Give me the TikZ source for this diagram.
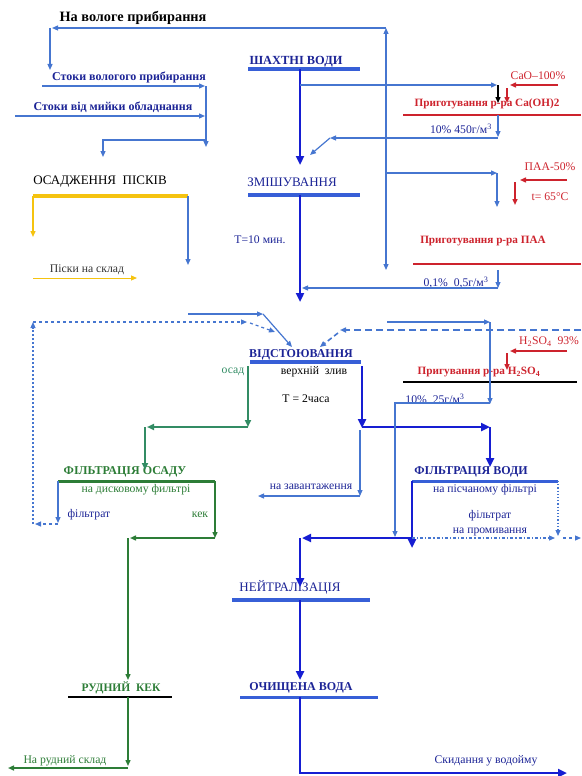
\documentclass[tikz,border=0pt]{standalone}
\usepackage{fontspec}
\setmainfont{Liberation Serif}
\usetikzlibrary{arrows.meta}

\definecolor{flowblue}{RGB}{70,118,208}
\definecolor{mainblue}{RGB}{22,30,210}
\definecolor{barblue}{RGB}{55,95,215}
\definecolor{txtblue}{RGB}{28,36,150}
\definecolor{procred}{RGB}{205,35,45}
\definecolor{sludgegreen}{RGB}{50,140,100}
\definecolor{cakegreen}{RGB}{45,125,55}
\definecolor{sandyellow}{RGB}{245,195,15}

\tikzset{
  >={Triangle[length=6pt,width=5pt]},
  flow/.style={flowblue, line width=1.2pt, ->},
  mainflow/.style={mainblue, line width=2.8pt, -{Triangle[length=9pt,width=8pt]}},
  redflow/.style={procred, line width=1.4pt, ->},
  blackflow/.style={black, line width=1.3pt, ->},
  sandflow/.style={sandyellow, line width=1.4pt, ->},
  sludgeflow/.style={sludgegreen, line width=2pt, -{Triangle[length=7pt,width=6pt]}},
  cakeflow/.style={cakegreen, line width=1.4pt, ->},
  barline/.style={line width=3.5pt},
  lbl/.style={inner sep=0pt, font=\fontsize{11.7}{13.5}\selectfont, text=txtblue},
  hd/.style={inner sep=0pt, font=\bfseries\fontsize{12}{14}\selectfont, text=txtblue},
  capt/.style={inner sep=0pt, font=\fontsize{13}{15}\selectfont, text=txtblue},
  redlbl/.style={lbl, text=procred},
  redhd/.style={inner sep=0pt, font=\bfseries\fontsize{11.2}{13}\selectfont, text=procred}
}

\begin{document}
\begin{tikzpicture}[x=1pt,y=-1pt]
\useasboundingbox (0,0) rectangle (581,776);

% texts
\node[hd, text=black, font=\bfseries\fontsize{14.3}{16}\selectfont] (wetclean) at (133,18) {На вологе прибирання};
\node[hd, font=\bfseries\fontsize{12.4}{14}\selectfont] (shakhtni) at (296,62) {ШАХТНІ ВОДИ};
\node[hd] (stokwet) at (129,77) {Стоки вологого прибирання};
\node[hd] (stokwash) at (113,107) {Стоки від мийки обладнання};
\node[redlbl] (caoin) at (538,76) {CaO–100\%};
\node[redhd] (caoprep) at (487,104) {Приготування р-ра Ca(OH)2};
\node[lbl] (limedose) at (461,129) {10\% 450г/м\textsuperscript{3}};
\node[capt] (mixing) at (292,182) {ЗМІШУВАННЯ};
\node[capt, text=black] (sandsettle) at (100,182) {ОСАДЖЕННЯ\ \ ПІСКІВ};
\node[lbl, text=black!80] (sandout) at (87,270) {Піски на склад};
\node[lbl] (mixtime) at (260,240) {Т=10 мин.};
\node[redlbl] (paain) at (550,167) {ПАА-50\%};
\node[redlbl] (paatemp) at (550,197) {t= 65°C};
\node[redhd] (paaprep) at (483,241) {Приготування р-ра ПАА};
\node[lbl] (paadose) at (456,283) {0,1\%\ \ 0,5г/м\textsuperscript{3}};
\node[hd] (settling) at (301,355) {ВІДСТОЮВАННЯ};
\node[lbl, text=sludgegreen] (sludge) at (233,372) {осад};
\node[lbl, text=black] (overflow) at (314,372) {верхній\ \ злив};
\node[lbl, text=black] (settletime) at (306,399) {Т = 2часа};
\node[redlbl] (acidin) at (549,342) {H\textsubscript{2}SO\textsubscript{4}\ \ 93\%};
\node[redhd] (acidprep) at (479,372) {Пригування р-ра H\textsubscript{2}SO\textsubscript{4}};
\node[lbl] (aciddose) at (435,399) {10\%\ \ 25г/м\textsuperscript{3}};
\node[hd, text=cakegreen] (sludgefilt) at (125,472) {ФІЛЬТРАЦІЯ ОСАДУ};
\node[lbl, text=cakegreen] (discfilt) at (136,490) {на дисковому фильтрі};
\node[lbl] (filtrate) at (89,515) {фільтрат};
\node[lbl, text=cakegreen] (cake) at (200,515) {кек};
\node[lbl] (toload) at (311,487) {на завантаження};
\node[hd] (waterfilt) at (471,472) {ФІЛЬТРАЦІЯ ВОДИ};
\node[lbl] (sandfilt) at (485,490) {на пісчаному фільтрі};
\node[lbl, align=center, font=\fontsize{11.7}{15.5}\selectfont] (backwash) at (490,523) {фільтрат\\на промивання};
\node[capt] (neutral) at (290,587) {НЕЙТРАЛІЗАЦІЯ};
\node[hd, text=cakegreen, font=\bfseries\fontsize{11.5}{13}\selectfont] (orecake) at (121,688) {РУДНИЙ\ \ КЕК};
\node[hd] (purified) at (301,688) {ОЧИЩЕНА ВОДА};
\node[lbl, text=cakegreen] (oreyard) at (65,761) {На рудний склад};
\node[lbl] (discharge) at (486,761) {Скидання у водойму};

% points
\coordinate (retT) at (386,28);  \coordinate (retB) at (386,270);
\coordinate (wetL) at (52,28);   \coordinate (wetC) at (50,28);  \coordinate (wetD) at (50,70);
\coordinate (shL) at (248,69);   \coordinate (shR) at (360,69);  \coordinate (shS) at (300,69);
\coordinate (mixIn) at (300,165);
\coordinate (limeJ) at (300,85); \coordinate (limeE) at (497,85);
\coordinate (blkT) at (498,85);  \coordinate (blkB) at (498,103);
\coordinate (caoR) at (558,85);  \coordinate (caoL) at (510,85);
\coordinate (caoT) at (507,88);  \coordinate (caoB) at (507,103);
\coordinate (caL) at (403,115);  \coordinate (caR) at (581,115);
\coordinate (limeS) at (498,115); \coordinate (limeD) at (498,137);
\coordinate (limeC) at (498,138); \coordinate (limeW) at (330,138); \coordinate (limeZ) at (310,155);
\coordinate (stokA) at (42,86);  \coordinate (stokAE) at (205,86);
\coordinate (stokB) at (15,116); \coordinate (stokBE) at (205,116);
\coordinate (colT) at (206,86);  \coordinate (colB) at (206,147);
\coordinate (colJ) at (206,140); \coordinate (colW) at (103,140); \coordinate (colD) at (103,157);
\coordinate (sandL) at (33,196); \coordinate (sandR) at (188,196);
\coordinate (sandD) at (33,237); \coordinate (sandBD) at (188,265);
\coordinate (sandOutL) at (33,278); \coordinate (sandOutR) at (137,278);
\coordinate (mixL) at (248,195); \coordinate (mixR) at (360,195);
\coordinate (mixS) at (300,195); \coordinate (mixOut) at (300,302);
\coordinate (paaJ) at (386,173); \coordinate (paaE) at (497,173); \coordinate (paaD) at (497,207);
\coordinate (paaR) at (567,180); \coordinate (paaL) at (520,180);
\coordinate (paaT) at (515,182); \coordinate (paaB) at (515,205);
\coordinate (ppL) at (413,264);  \coordinate (ppR) at (581,264);
\coordinate (pdT) at (498,270);  \coordinate (pdB) at (498,288); \coordinate (pdE) at (302,288);
\coordinate (inA) at (188,314);  \coordinate (inB) at (263,314); \coordinate (inC) at (292,347);
\coordinate (dsA) at (33,322);   \coordinate (dsB) at (247,322);
\coordinate (dsC) at (250,323);  \coordinate (dsD) at (275,332);
\coordinate (drA) at (581,330);  \coordinate (drB) at (340,330);
\coordinate (drC) at (338,333);  \coordinate (drD) at (320,347);
\coordinate (stL) at (250,362);  \coordinate (stR) at (361,362);
\coordinate (acJ) at (387,322);  \coordinate (acE) at (490,322); \coordinate (acD) at (490,404);
\coordinate (acR) at (567,351);  \coordinate (acL) at (510,351);
\coordinate (acT) at (507,353);  \coordinate (acB) at (507,370);
\coordinate (apL) at (403,382);  \coordinate (apR) at (577,382);
\coordinate (adC) at (490,403);  \coordinate (adW) at (395,403); \coordinate (adB) at (395,537);
\coordinate (osT) at (248,366);  \coordinate (osB) at (248,427); \coordinate (osW) at (147,427);
\coordinate (osC) at (145,427);  \coordinate (osD) at (145,470);
\coordinate (ofT) at (362,366);  \coordinate (ofB) at (362,428);
\coordinate (ofC) at (362,427);  \coordinate (ofE) at (490,427); \coordinate (ofD) at (490,467);
\coordinate (ldT) at (360,430);  \coordinate (ldC) at (360,496); \coordinate (ldW) at (258,496);
\coordinate (sfL) at (58,481);   \coordinate (sfR) at (215,481); \coordinate (sfD) at (58,523);
\coordinate (fdA) at (58,524);   \coordinate (fdB) at (35,524);  \coordinate (dsBot) at (33,524);
\coordinate (ckB) at (215,538);  \coordinate (ckW) at (130,538);
\coordinate (ckC) at (128,538);  \coordinate (ckD) at (128,680);
\coordinate (wfL) at (412,481);  \coordinate (wfR) at (558,481); \coordinate (wfD) at (412,548);
\coordinate (wfDot) at (558,536);
\coordinate (nJ) at (412,538);   \coordinate (nW) at (302,538);
\coordinate (nC) at (300,538);   \coordinate (nD) at (300,587);
\coordinate (bwB) at (555,538);  \coordinate (bwC) at (563,538); \coordinate (bwD) at (581,538);
\coordinate (ntL) at (232,600);  \coordinate (ntR) at (370,600);
\coordinate (ntS) at (300,600);  \coordinate (ntD) at (300,680);
\coordinate (rkL) at (68,697);   \coordinate (rkR) at (172,697);
\coordinate (rkS) at (128,697);  \coordinate (rkD) at (128,766);
\coordinate (rkC) at (128,768);  \coordinate (rkW) at (8,768);
\coordinate (pwL) at (240,697);  \coordinate (pwR) at (378,697);
\coordinate (pwS) at (300,697);  \coordinate (pwC) at (300,773); \coordinate (pwE) at (567,773);

% bars
\draw[barline, barblue] (shL) -- (shR);
\draw[barline, barblue] (mixL) -- (mixR);
\draw[barline, sandyellow] (sandL) -- (sandR);
\draw[procred, line width=1.8pt] (caL) -- (caR);
\draw[procred, line width=1.8pt] (ppL) -- (ppR);
\draw[barline, barblue] (stL) -- (stR);
\draw[black, line width=1.8pt] (apL) -- (apR);
\draw[cakegreen, line width=3pt] (sfL) -- (sfR);
\draw[barblue, line width=3pt] (wfL) -- (wfR);
\draw[barline, barblue] (ntL) -- (ntR);
\draw[black, line width=2pt] (rkL) -- (rkR);
\draw[barblue, line width=3pt] (pwL) -- (pwR);

% main water line
\draw[mainflow] (shS) -- (mixIn);
\draw[mainflow] (mixS) -- (mixOut);
\draw[mainflow] (ofT) -- (ofB);
\draw[mainflow] (ofC) -- (ofE);
\draw[mainflow] (ofE) -- (ofD);
\draw[mainflow] (wfL) -- (wfD);
\draw[mainflow] (nJ) -- (nW);
\draw[mainflow] (nC) -- (nD);
\draw[mainflow] (ntS) -- (ntD);
\draw[mainflow] (pwS) -- (pwC) -- (pwE);

% thin blue lines
\draw[flow, <->] (retB) -- (retT);
\draw[flow] (retT) -- (wetL);
\draw[flow] (wetC) -- (wetD);
\draw[flow] (limeJ) -- (limeE);
\draw[flow] (paaJ) -- (paaE);
\draw[flow] (paaE) -- (paaD);
\draw[flow] (stokA) -- (stokAE);
\draw[flow] (stokB) -- (stokBE);
\draw[flow] (colT) -- (colB);
\draw[flow] (colJ) -- (colW) -- (colD);
\draw[flow] (sandR) -- (sandBD);
\draw[flow] (limeS) -- (limeD);
\draw[flow] (limeC) -- (limeW);
\draw[flow] (limeW) -- (limeZ);
\draw[flow] (pdT) -- (pdB);
\draw[flow] (pdB) -- (pdE);
\draw[flow] (inA) -- (inB);
\draw[flow] (inB) -- (inC);
\draw[flow] (acJ) -- (acE);
\draw[flow] (acE) -- (acD);
\draw[flow] (adC) -- (adW) -- (adB);
\draw[flow] (ldT) -- (ldC);
\draw[flow] (ldC) -- (ldW);
\draw[flow] (sfL) -- (sfD);

% return lines
\draw[flow, dashed] (fdA) -- (fdB);
\draw[flow, dash pattern=on 2pt off 2pt] (dsBot) -- (dsA);
\draw[flow, dashed] (dsA) -- (dsB);
\draw[flow, dashed] (dsC) -- (dsD);
\draw[flow, line width=1.6pt, dash pattern=on 7pt off 4pt] (drA) -- (drB);
\draw[flow, line width=1.6pt, dash pattern=on 5pt off 3pt] (drC) -- (drD);
\draw[flow, dotted] (wfR) -- (wfDot);
\draw[flow, dash dot] (nJ) -- (bwB);
\draw[flow, dashed] (bwC) -- (bwD);

% reagents
\draw[blackflow] (blkT) -- (blkB);
\draw[redflow] (caoR) -- (caoL);
\draw[redflow] (caoT) -- (caoB);
\draw[redflow] (paaR) -- (paaL);
\draw[redflow] (paaT) -- (paaB);
\draw[redflow] (acR) -- (acL);
\draw[redflow] (acT) -- (acB);

% sand
\draw[sandflow] (sandL) -- (sandD);
\draw[sandflow, line width=1pt] (sandOutL) -- (sandOutR);

% sludge and cake
\draw[sludgeflow] (osT) -- (osB);
\draw[sludgeflow] (osB) -- (osW);
\draw[sludgeflow] (osC) -- (osD);
\draw[cakeflow] (sfR) -- (ckB);
\draw[cakeflow] (ckB) -- (ckW);
\draw[cakeflow] (ckC) -- (ckD);
\draw[cakeflow] (rkS) -- (rkD);
\draw[cakeflow] (rkC) -- (rkW);
\end{tikzpicture}
\end{document}
